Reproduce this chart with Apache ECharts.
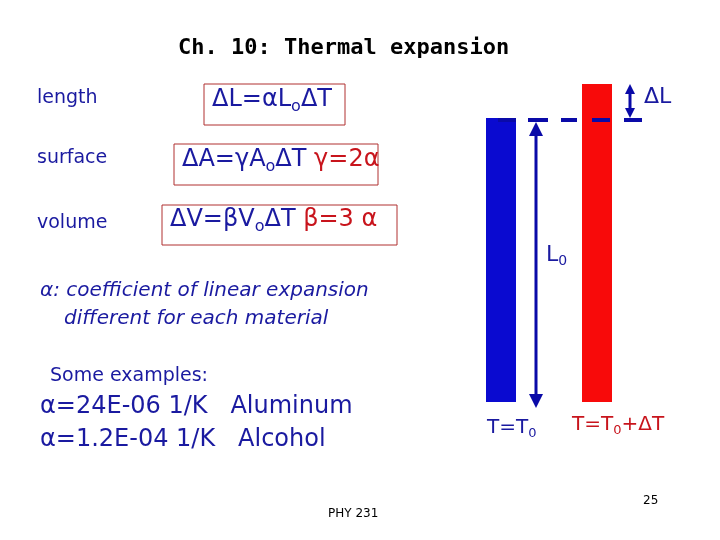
<!DOCTYPE html>
<html><head><meta charset="utf-8">
<script src="https://cdn.jsdelivr.net/npm/echarts@6/dist/echarts.min.js"></script>
<style>html,body{margin:0;background:#fff}#c{width:720px;height:540px}</style>
</head><body><div id="c"></div>
<script>
// rod lengths, in units of L0
const rods = ['T=T0', 'T=T0+ΔT'];
const lengths = [1.0, 1.12];
const rodColors = ['#0a0ad0', '#f80a0a'];

const blue = '#1a1aa0', red = '#c8141c', dark = '#0a0aa8';
const chart = echarts.init(document.getElementById('c'));
function txt(x, y, text, size, color, extra) {
    return {type: 'text', left: x, top: y, style: Object.assign({text: text, fontSize: size, fill: color, fontFamily: 'DejaVu Sans'}, extra || {})};
}
function box(x, y, w, h) {
    return {type: 'rect', shape: {x: x, y: y, width: w, height: h}, style: {fill: 'none', stroke: '#b03030', lineWidth: 1}};
}
function rich(size, color) {
    return {
        b: {fontSize: size, fill: color, fontFamily: 'DejaVu Sans'},
        s: {fontSize: Math.round(size * 0.65), fill: color, fontFamily: 'DejaVu Sans', padding: [Math.round(size * 0.55), 0, 0, 0]},
        r: {fontSize: size, fill: red, fontFamily: 'DejaVu Sans'}
    };
}
function rt(x, y, text, size, color) {
    return {type: 'text', left: x, top: y, style: {text: text, rich: rich(size, color)}};
}
const dashes = [[498, 516], [528, 548], [561, 577], [592, 610], [624, 642]].map(d => ({
    type: 'line', z: 100, shape: {x1: d[0], y1: 120, x2: d[1], y2: 120}, style: {stroke: dark, lineWidth: 4}
}));
chart.setOption({
    animation: false,
    grid: {left: 453, right: 75, top: 84, bottom: 138},
    xAxis: {type: 'category', data: rods, show: false},
    yAxis: {type: 'value', min: 0, max: 1.12, show: false},
    series: [{
        type: 'bar', barWidth: 30, z: 1,
        data: lengths.map((v, i) => ({value: v, itemStyle: {color: rodColors[i]}}))
    }],
    graphic: [
        txt(178, 37, 'Ch. 10: Thermal expansion', 22, '#000', {fontWeight: 'bold', fontFamily: 'DejaVu Sans Mono'}),
        txt(37, 89, 'length', 19, blue),
        txt(37, 149, 'surface', 19, blue),
        txt(37, 214, 'volume', 19, blue),
        box(204, 84, 141, 41), box(174, 144, 204, 41), box(162, 205, 235, 40),
        rt(212, 88, '{b|ΔL=αL}{s|o}{b|ΔT}', 24, blue),
        rt(182, 148, '{b|ΔA=γA}{s|o}{b|ΔT }{r|γ=2α}', 24, blue),
        rt(170, 208, '{b|ΔV=βV}{s|o}{b|ΔT }{r|β=3 α}', 24, blue),
        txt(40, 281, 'α: coefficient of linear expansion', 20, blue, {fontStyle: 'italic'}),
        txt(64, 309, 'different for each material', 20, blue, {fontStyle: 'italic'}),
        txt(50, 367, 'Some examples:', 19, blue),
        txt(40, 395, 'α=24E-06 1/K   Aluminum', 24, blue),
        txt(40, 428, 'α=1.2E-04 1/K   Alcohol', 24, blue),
        txt(328, 508, 'PHY 231', 12, '#000'),
        txt(643, 495, '25', 12, '#000'),
        rt(546, 244, '{b|L}{s|0}', 22, blue),
        rt(487, 418, '{b|T=T}{s|0}', 20, blue),
        rt(572, 415, '{b|T=T}{s|0}{b|+ΔT}', 20, red),
        txt(644, 86, 'ΔL', 22, blue)
    ].concat(dashes, [
        // L0 arrow
        {type: 'line', z: 100, shape: {x1: 536, y1: 130, x2: 536, y2: 398}, style: {stroke: dark, lineWidth: 3}},
        {type: 'polygon', z: 100, shape: {points: [[536, 122], [529, 136], [543, 136]]}, style: {fill: dark}},
        {type: 'polygon', z: 100, shape: {points: [[536, 408], [529, 394], [543, 394]]}, style: {fill: dark}},
        // ΔL arrow
        {type: 'line', z: 100, shape: {x1: 630, y1: 90, x2: 630, y2: 114}, style: {stroke: dark, lineWidth: 3}},
        {type: 'polygon', z: 100, shape: {points: [[630, 84], [625, 94], [635, 94]]}, style: {fill: dark}},
        {type: 'polygon', z: 100, shape: {points: [[630, 118], [625, 108], [635, 108]]}, style: {fill: dark}}
    ])
});
</script></body></html>
